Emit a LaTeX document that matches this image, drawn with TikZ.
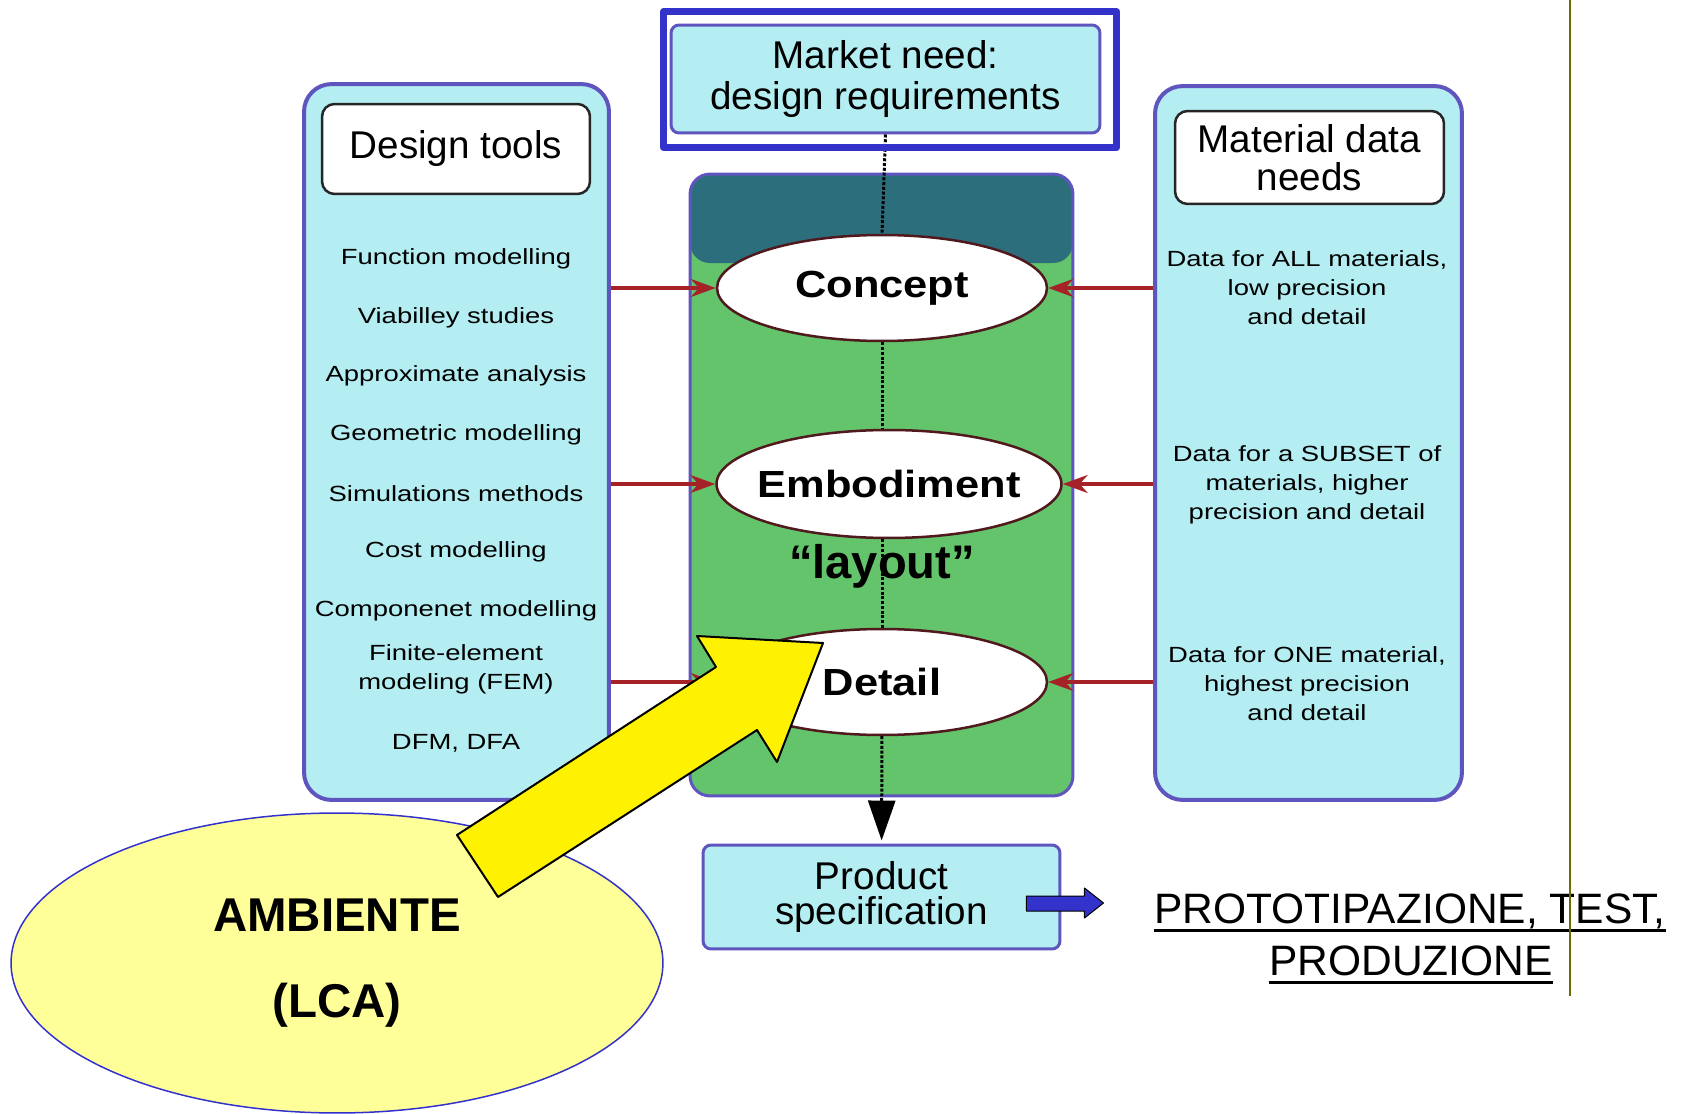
\documentclass[tikz,border=0pt]{standalone}
\usepackage{fontspec}
\setmainfont{Liberation Sans}
\newfontfamily\widefont[FakeStretch=1.25]{Liberation Sans}
\newfontfamily\stagefont[FakeStretch=1.15]{Liberation Sans}
\usetikzlibrary{shapes.geometric,arrows.meta}
\definecolor{hatch}{RGB}{180,238,242}
\definecolor{stagegreen}{RGB}{100,196,108}
\definecolor{stagetop}{RGB}{45,110,125}
\definecolor{rim}{RGB}{95,85,190}
\definecolor{edge}{RGB}{80,25,30}
\definecolor{feedred}{RGB}{165,35,40}
\definecolor{marketblue}{RGB}{51,51,204}
\definecolor{lcayellow}{RGB}{255,255,153}
\definecolor{marginline}{RGB}{110,110,0}

\begin{document}
\begin{tikzpicture}[x=0.02cm,y=-0.02cm,line join=round,
	panel/.style={draw=rim,fill=hatch,line width=0.08cm,rounded corners=0.55cm,inner sep=0},
	headbox/.style={draw=black!85,fill=white,line width=0.05cm,rounded corners=0.25cm,align=center,font=\fontsize{22}{21.5}\selectfont},
	item/.style={align=center,inner sep=0,font=\widefont\fontsize{12.5}{16.5}\selectfont},
	stagebox/.style={ellipse,draw=edge,fill=white,line width=0.05cm,inner sep=0,minimum width=6.6cm,minimum height=2.12cm,font=\stagefont\bfseries\fontsize{21.5}{26}\selectfont},
	feed/.style={draw=feedred,line width=0.07cm,-{Stealth[length=0.5cm,width=0.36cm]}},
	chain/.style={densely dotted,line width=0.06cm}]
	
	\useasboundingbox (0,0) rectangle (1683,1114);
	
	% side panels
	\node[panel,minimum width=6.1cm,minimum height=14.32cm] (tools) at (456.5,442) {};
	\node[panel,minimum width=6.14cm,minimum height=14.28cm] (data) at (1308.5,443) {};
	\node[headbox,minimum width=5.36cm,minimum height=1.8cm] (toolshead) at (456,149) {Design tools};
	\node[headbox,minimum width=5.38cm,minimum height=1.86cm] (datahead) at (1309.5,157.5) {Material data\\needs};
	
	% design tools
	\node[item] (fmod) at (456,259) {Function modelling};
	\node[item] (viab) at (456,318) {Viabilley studies};
	\node[item] (approx) at (456,376) {Approximate analysis};
	\node[item] (geom) at (456,435) {Geometric modelling};
	\node[item] (simul) at (456,494) {Simulations methods};
	\node[item] (cost) at (456,552) {Cost modelling};
	\node[item] (comp) at (456,611) {Componenet modelling};
	\node[item] (fem) at (456,669) {Finite-element\\modeling (FEM)};
	\node[item] (dfm) at (456,743) {DFM, DFA};
	
	% material data
	\node[item] (dall) at (1307,288) {Data for ALL materials,\\low precision\\and detail};
	\node[item] (dsubset) at (1307,485) {Data for a SUBSET of\\materials, higher\\precision and detail};
	\node[item] (done) at (1307,684) {Data for ONE material,\\highest precision\\and detail};
	
	% central column
	\node[draw=rim,fill=stagegreen,line width=0.06cm,rounded corners=0.4cm,minimum width=7.66cm,minimum height=12.44cm,
		path picture={\fill[stagetop] (path picture bounding box.north west) rectangle ([yshift=-1.78cm]path picture bounding box.north east);}] (stage) at (881.5,485) {};
	\node[stagebox] (concept) at (882,288) {Concept};
	\node[stagebox,inner xsep=-0.2cm,minimum width=6.9cm,minimum height=2.16cm] (embodiment) at (889,484) {Embodiment};
	\node[stagebox] (detail) at (882,682) {Detail};
	\node[font=\bfseries\fontsize{26.8}{30}\selectfont] (layout) at (882,566) {“layout”};
	\node[draw=rim,fill=hatch,line width=0.06cm,rounded corners=0.16cm,minimum width=8.58cm,minimum height=2.16cm,align=center,font=\fontsize{22}{23.8}\selectfont] (market) at (885.5,79) {Market need:\\design requirements};
	\node[draw=rim,fill=hatch,line width=0.06cm,rounded corners=0.16cm,minimum width=7.14cm,minimum height=2.08cm,align=center,font=\fontsize{22}{20}\selectfont] (product) at (881.5,897) {Product\\specification};
	
	\draw[chain] (market.south) -- (concept.north);
	\draw[chain] (concept.south) -- (concept.south |- embodiment.north);
	\draw[chain] (concept.south |- embodiment.south) -- (detail.north);
	\draw[chain,-{Triangle[length=0.8cm,width=0.54cm]},shorten >=0.06cm] (detail) -- (product);
	\node[draw=marketblue,line width=0.14cm,minimum width=9.06cm,minimum height=2.72cm] (marketframe) at (890,79.5) {};
	
	\draw[feed] (tools.east |- concept) -- (concept);
	\draw[feed] (tools.east |- embodiment) -- (embodiment);
	\draw[feed] (tools.east |- detail) -- (detail);
	\draw[feed] (data.west |- concept) -- (concept);
	\draw[feed] (data.west |- embodiment) -- (embodiment);
	\draw[feed] (data.west |- detail) -- (detail);
	
	% environment
	\node[ellipse,draw=marketblue,fill=lcayellow,line width=0.03cm,minimum width=13.04cm,minimum height=6cm,align=center,font=\bfseries\fontsize{27}{49}\selectfont] (lca) at (337,963) {AMBIENTE\\(LCA)};
	\draw[fill=yellow,line width=0.04cm] (457,835) -- (716,667) -- (697,636) -- (823,643) -- (777,762) -- (757,730) -- (498,897) -- cycle;
	
	% next phase
	\draw[fill=marketblue,line width=0.02cm] ([xshift=-0.7cm,yshift=0.02cm]product.east) --++(58,0) --++(0,-8) --++(19,15) --++(-19,15) --++(0,-7) --++(-58,0) -- cycle;
	\node[anchor=base,inner sep=0,font=\fontsize{24.2}{29}\selectfont] (proto) at (1410,923) {PROTOTIPAZIONE, TEST,};
	\node[anchor=base,inner sep=0,font=\fontsize{24.2}{29}\selectfont] (produz) at (1411,975) {PRODUZIONE};
	\draw[line width=0.07cm] ([yshift=-0.15cm]proto.base west) -- ([yshift=-0.15cm]proto.base east);
	\draw[line width=0.07cm] ([yshift=-0.15cm]produz.base west) -- ([yshift=-0.15cm]produz.base east);
	\draw[marginline,line width=0.035cm] (1570,0) -- (1570,996);
\end{tikzpicture}
\end{document}
